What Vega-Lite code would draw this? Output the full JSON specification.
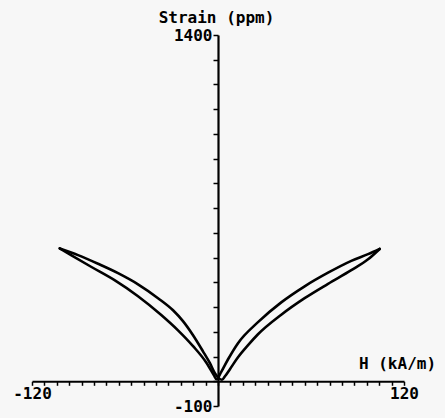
{
  "$schema": "https://vega.github.io/schema/vega-lite/v6.json",
  "autosize": {"type": "none"},
  "padding": {"left": 32, "top": 35, "right": 41, "bottom": 12},
  "width": 372,
  "height": 371,
  "background": "#f7f7f7",
  "config": {
    "view": {"stroke": null},
    "axis": {
      "grid": false,
      "domainColor": "#000000",
      "tickColor": "#000000",
      "labelColor": "#000000",
      "titleColor": "#000000",
      "labelFont": "DejaVu Sans Mono",
      "labelFontWeight": "bold",
      "labelFontSize": 16,
      "titleFont": "DejaVu Sans Mono",
      "titleFontWeight": "bold",
      "titleFontSize": 16,
      "labelOverlap": false,
      "labelBound": false,
      "labelFlush": false
    }
  },
  "data": {
    "values": [
      {"branch": "A", "i": 1, "h": -102.1, "s": 537},
      {"branch": "A", "i": 2, "h": -94.8, "s": 510},
      {"branch": "A", "i": 3, "h": -81.9, "s": 463},
      {"branch": "A", "i": 4, "h": -66.5, "s": 408},
      {"branch": "A", "i": 5, "h": -51.6, "s": 344},
      {"branch": "A", "i": 6, "h": -36.8, "s": 269},
      {"branch": "A", "i": 7, "h": -25.8, "s": 206},
      {"branch": "A", "i": 8, "h": -16.1, "s": 142},
      {"branch": "A", "i": 9, "h": -7.7, "s": 77},
      {"branch": "A", "i": 10, "h": -2.6, "s": 24},
      {"branch": "A", "i": 11, "h": -1.0, "s": 8},
      {"branch": "A", "i": 12, "h": 2.1, "s": 38},
      {"branch": "A", "i": 13, "h": 6.5, "s": 89},
      {"branch": "A", "i": 14, "h": 12.9, "s": 154},
      {"branch": "A", "i": 15, "h": 25.8, "s": 239},
      {"branch": "A", "i": 16, "h": 40.8, "s": 319},
      {"branch": "A", "i": 17, "h": 55.9, "s": 384},
      {"branch": "A", "i": 18, "h": 71.0, "s": 439},
      {"branch": "A", "i": 19, "h": 86.0, "s": 487},
      {"branch": "A", "i": 20, "h": 96.8, "s": 514},
      {"branch": "A", "i": 21, "h": 104.3, "s": 535},
      {"branch": "B", "i": 1, "h": -102.1, "s": 537},
      {"branch": "B", "i": 2, "h": -90.3, "s": 510},
      {"branch": "B", "i": 3, "h": -77.4, "s": 475},
      {"branch": "B", "i": 4, "h": -64.5, "s": 437},
      {"branch": "B", "i": 5, "h": -51.6, "s": 392},
      {"branch": "B", "i": 6, "h": -38.7, "s": 336},
      {"branch": "B", "i": 7, "h": -29.0, "s": 287},
      {"branch": "B", "i": 8, "h": -22.6, "s": 243},
      {"branch": "B", "i": 9, "h": -16.1, "s": 186},
      {"branch": "B", "i": 10, "h": -9.7, "s": 121},
      {"branch": "B", "i": 11, "h": -5.2, "s": 73},
      {"branch": "B", "i": 12, "h": -1.9, "s": 32},
      {"branch": "B", "i": 13, "h": 2.6, "s": 6},
      {"branch": "B", "i": 14, "h": 4.5, "s": 20},
      {"branch": "B", "i": 15, "h": 7.7, "s": 49},
      {"branch": "B", "i": 16, "h": 12.9, "s": 97},
      {"branch": "B", "i": 17, "h": 19.4, "s": 146},
      {"branch": "B", "i": 18, "h": 25.8, "s": 190},
      {"branch": "B", "i": 19, "h": 40.8, "s": 269},
      {"branch": "B", "i": 20, "h": 55.9, "s": 336},
      {"branch": "B", "i": 21, "h": 71.0, "s": 394},
      {"branch": "B", "i": 22, "h": 86.0, "s": 449},
      {"branch": "B", "i": 23, "h": 96.8, "s": 493},
      {"branch": "B", "i": 24, "h": 104.3, "s": 535}
    ]
  },
  "mark": {"type": "line", "color": "#000000", "strokeWidth": 2.6, "interpolate": "monotone", "strokeCap": "round", "strokeJoin": "round"},
  "encoding": {
    "x": {
      "field": "h",
      "type": "quantitative",
      "scale": {"domain": [-120, 120], "nice": false, "zero": false},
      "axis": {
        "orient": "bottom",
        "offset": -24.7,
        "values": [-120, -112, -104, -96, -88, -80, -72, -64, -56, -48, -40, -32, -24, -16, -8, 0, 8, 16, 24, 32, 40, 48, 56, 64, 72, 80, 88, 96, 104, 112, 120],
        "labelExpr": "datum.value == -120 ? '-120' : datum.value == 120 ? '120' : ''",
        "tickSize": 4,
        "tickWidth": 1.5,
        "domainWidth": 2,
        "labelPadding": 0,
        "title": "H (kA/m)",
        "titleAngle": 0,
        "titleAlign": "center",
        "titleBaseline": "middle",
        "titleX": 365,
        "titleY": -18
      }
    },
    "y": {
      "field": "s",
      "type": "quantitative",
      "scale": {"domain": [-100, 1400], "nice": false, "zero": false},
      "axis": {
        "orient": "left",
        "offset": -186,
        "values": [-100, 0, 100, 200, 300, 400, 500, 600, 700, 800, 900, 1000, 1100, 1200, 1300, 1400],
        "labelExpr": "datum.value == 1400 ? '1400' : datum.value == -100 ? '-100' : ''",
        "tickSize": 5,
        "tickWidth": 1.5,
        "domainWidth": 2.2,
        "labelPadding": 1,
        "title": "Strain (ppm)",
        "titleAngle": 0,
        "titleAlign": "center",
        "titleBaseline": "middle",
        "titleX": -2,
        "titleY": -18
      }
    },
    "detail": {"field": "branch"},
    "order": {"field": "i", "type": "quantitative"}
  }
}
